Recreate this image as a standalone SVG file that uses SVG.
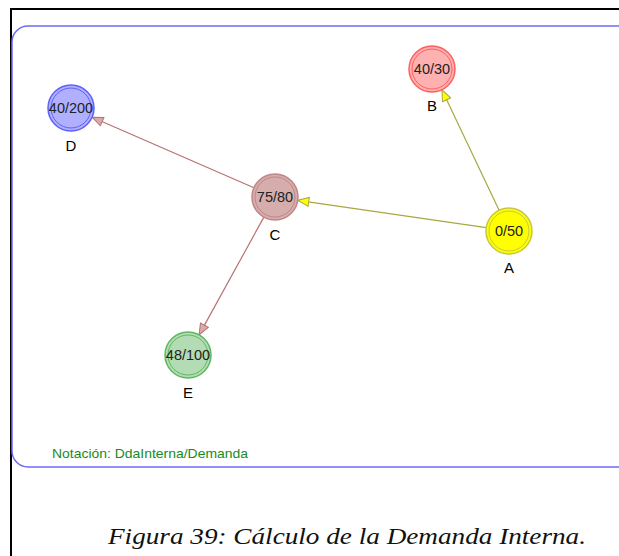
<svg xmlns="http://www.w3.org/2000/svg" width="619" height="556" viewBox="0 0 619 556">
<style>
.lbl{font-family:"Liberation Sans",Arial,sans-serif;font-size:15px;fill:#000;text-anchor:middle}
.val{font-family:"Liberation Sans",Arial,sans-serif;font-size:14.5px;fill:#222;text-anchor:middle}
.ea{stroke:#a8a840;stroke-width:1.2;fill:none}
.ec{stroke:#b87272;stroke-width:1.2;fill:none}
.in{fill:none;stroke-width:1}
.cap{font-family:"Liberation Serif","Times New Roman",serif;font-style:italic;font-size:24px;fill:#111}
.note{font-family:"Liberation Sans",Arial,sans-serif;font-size:13px;fill:#1a8a1a}
</style>
<defs>
<marker id="arrA" markerUnits="userSpaceOnUse" markerWidth="14" markerHeight="12" refX="12" refY="5" orient="auto" overflow="visible">
<path d="M1,0.5 L12,5 L1,9.5 Z" fill="#ffff00" stroke="#a8a840" stroke-width="1"/>
</marker>
<marker id="arrC" markerUnits="userSpaceOnUse" markerWidth="14" markerHeight="12" refX="12" refY="5" orient="auto" overflow="visible">
<path d="M1,0.5 L12,5 L1,9.5 Z" fill="#dcaaaa" stroke="#b87272" stroke-width="1"/>
</marker>
</defs>
<rect width="619" height="556" fill="#fff"/>
<path d="M11,556 V9 H619" fill="none" stroke="#000" stroke-width="2"/>
<rect x="12" y="26" width="622" height="441" rx="16" ry="16" fill="none" stroke="#6b6bf5" stroke-width="1.5"/>
<g id="connectors">
<line class="ea" x1="499.1" y1="210.2" x2="441.9" y2="89.8" marker-end="url(#arrA)"/>
<line class="ea" x1="486.2" y1="227.7" x2="297.8" y2="200.3" marker-end="url(#arrA)"/>
<line class="ec" x1="253.9" y1="187.8" x2="92.1" y2="117.2" marker-end="url(#arrC)"/>
<line class="ec" x1="263.9" y1="217.1" x2="199.1" y2="334.9" marker-end="url(#arrC)"/>
</g>
<g id="node-B">
<circle cx="432" cy="69" r="23" fill="#ffb0b0" stroke="#ff6060" stroke-width="1.5"/>
<circle class="in" cx="432" cy="69" r="20" stroke="#ff6060"/>
<text class="val" x="432" y="74">40/30</text>
<text class="lbl" x="432" y="111">B</text>
</g>
<g id="node-D">
<circle cx="71" cy="108" r="23" fill="#b0b0ff" stroke="#6060ff" stroke-width="1.5"/>
<circle class="in" cx="71" cy="108" r="20" stroke="#6060ff"/>
<text class="val" x="71" y="113">40/200</text>
<text class="lbl" x="71" y="151">D</text>
</g>
<g id="node-C">
<circle cx="275" cy="197" r="23" fill="#d6adad" stroke="#c08686" stroke-width="1.5"/>
<circle class="in" cx="275" cy="197" r="20" stroke="#c08686"/>
<text class="val" x="275" y="202">75/80</text>
<text class="lbl" x="275" y="240">C</text>
</g>
<g id="node-A">
<circle cx="509" cy="231" r="23" fill="#ffff00" stroke="#c8c840" stroke-width="1.5"/>
<circle class="in" cx="509" cy="231" r="20" stroke="#c8c840"/>
<text class="val" x="509" y="236">0/50</text>
<text class="lbl" x="509" y="273">A</text>
</g>
<g id="node-E">
<circle cx="188" cy="355" r="23" fill="#b4dcb4" stroke="#60b860" stroke-width="1.5"/>
<circle class="in" cx="188" cy="355" r="20" stroke="#60b860"/>
<text class="val" x="188" y="360">48/100</text>
<text class="lbl" x="188" y="398">E</text>
</g>
<text class="note" x="52" y="458" textLength="196" lengthAdjust="spacingAndGlyphs">Notación: DdaInterna/Demanda</text>
<text class="cap" x="108" y="544" textLength="478" lengthAdjust="spacingAndGlyphs">Figura 39: Cálculo de la Demanda Interna.</text>
</svg>
